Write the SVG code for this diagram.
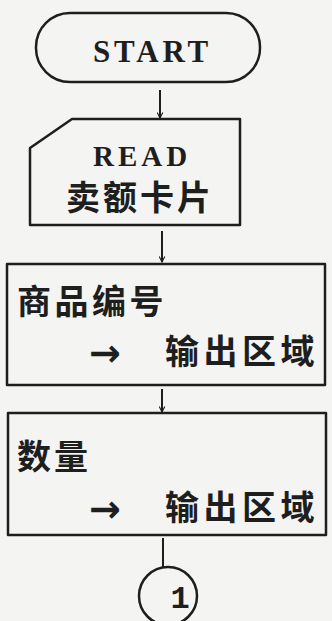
<svg xmlns="http://www.w3.org/2000/svg" width="332" height="621" viewBox="0 0 332 621">
<style>
.shape{fill:none;stroke:#1e1e1e;stroke-width:2.5;stroke-linejoin:round}
.conn{fill:none;stroke:#1e1e1e;stroke-width:2}
.lat{font-family:"Liberation Serif",serif;font-weight:bold;fill:#1e1e1e}
.cjk{font-family:"Noto Sans CJK SC","Noto Sans CJK TC",sans-serif;font-weight:bold;fill:#1e1e1e;font-size:34px}
.arr{font-family:"DejaVu Sans",sans-serif;font-weight:bold;fill:#1e1e1e;font-size:38px}
</style>
<defs>
<marker id="ah" viewBox="0 0 10 10" refX="9" refY="5" markerWidth="7" markerHeight="7" orient="auto" markerUnits="userSpaceOnUse">
<path d="M1,1 L9,5 L1,9" fill="none" stroke="#1e1e1e" stroke-width="1.6"/>
</marker>
</defs>
<rect x="0" y="0" width="332" height="621" fill="#f4f4f2"/>
<g id="connectors">
<line class="conn" x1="160" y1="90" x2="160" y2="118" marker-end="url(#ah)"/>
<line class="conn" x1="162" y1="231" x2="162" y2="262" marker-end="url(#ah)"/>
<line class="conn" x1="162" y1="389" x2="162" y2="412" marker-end="url(#ah)"/>
<line class="conn" x1="163" y1="538" x2="163" y2="568"/>
</g>
<g id="start">
<rect class="shape" x="36" y="13" width="224" height="69" rx="34" ry="34"/>
<text class="lat" x="93" y="62" font-size="31" letter-spacing="3.8">START</text>
</g>
<g id="read">
<path class="shape" d="M72,119 L240,119 L240,225 L30,225 L30,148 Z"/>
<text class="lat" x="93" y="166" font-size="29" letter-spacing="4">READ</text>
<text class="cjk" x="66" y="210" letter-spacing="3">卖额卡片</text>
</g>
<g id="item-no">
<rect class="shape" x="7" y="264" width="318" height="121"/>
<text class="cjk" x="17" y="314" letter-spacing="3.5">商品编号</text>
<text class="arr" x="89" y="366">→</text>
<text class="cjk" x="165" y="364" letter-spacing="4.5">输出区域</text>
</g>
<g id="quantity">
<rect class="shape" x="8" y="413" width="318" height="122"/>
<text class="cjk" x="17" y="469" letter-spacing="3">数量</text>
<text class="arr" x="89" y="522">→</text>
<text class="cjk" x="165" y="520" letter-spacing="4.5">输出区域</text>
</g>
<g id="connector-1">
<circle class="shape" cx="168" cy="596" r="29"/>
<text x="180" y="608" text-anchor="middle" font-family="Liberation Mono, monospace" font-weight="bold" font-size="32" fill="#1e1e1e">1</text>
</g>
</svg>
